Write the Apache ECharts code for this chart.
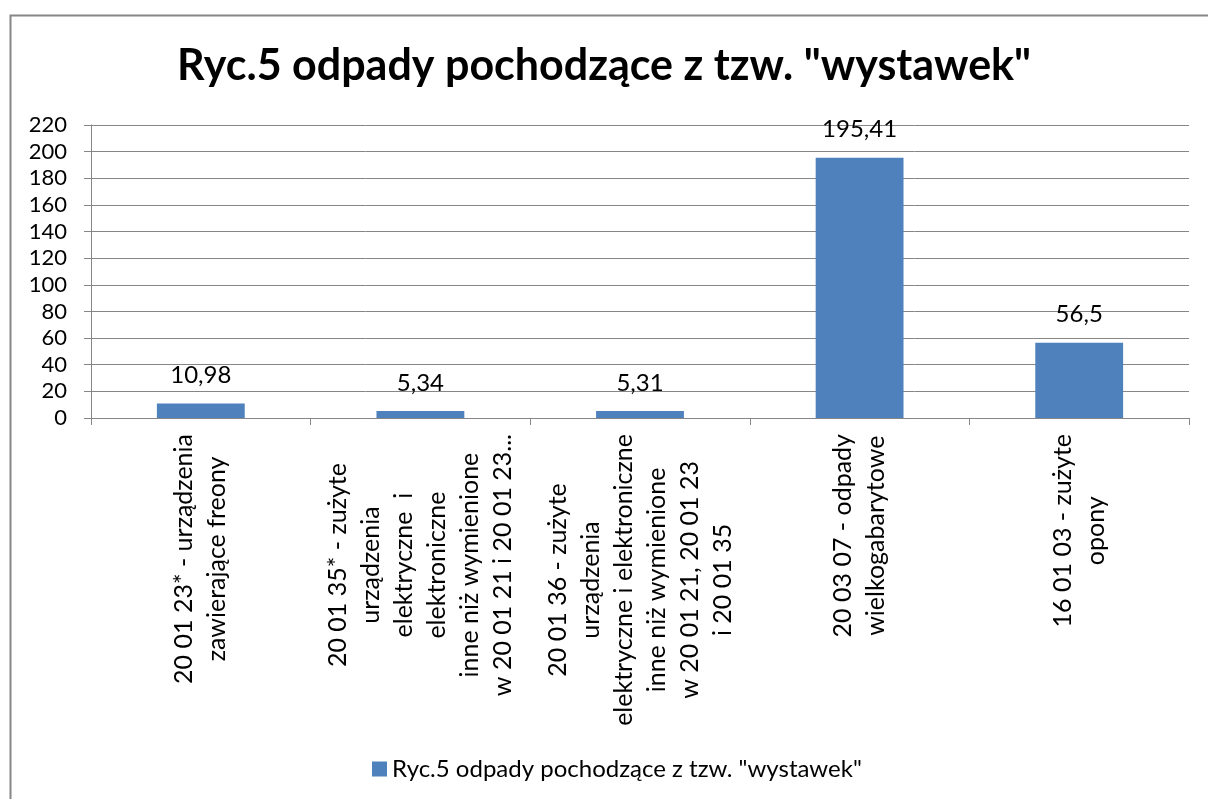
<!DOCTYPE html>
<html>
<head>
    <meta charset="utf-8" />
    <script type="text/javascript" src="https://cdn.jsdelivr.net/npm/echarts@6.0.0/dist/echarts.min.js"></script>
    <style>
      body { margin: 0; background: #fff; }
      #container { width: 1208px; height: 799px; }
    </style>
</head>
<body>
<div id="container"></div>
<script>
// dane z wykresu
var chartTitle = 'Ryc.5 odpady pochodzące z tzw. "wystawek"';
var categories = [
  '20 01 23* - urządzenia\nzawierające freony',
  '20 01 35* - zużyte\nurządzenia\nelektryczne  i\nelektroniczne\ninne niż wymienione\nw 20 01 21 i 20 01 23...',
  '20 01 36 - zużyte\nurządzenia\nelektryczne i elektroniczne\ninne niż wymienione\nw 20 01 21, 20 01 23\ni 20 01 35',
  '20 03 07 - odpady\nwielkogabarytowe',
  '16 01 03 - zużyte\nopony'
];
var values = [10.98, 5.34, 5.31, 195.41, 56.5];
var yTicks = { min: 0, max: 220, step: 20 };

var font = 'Lato, "Open Sans", sans-serif';
var grey = '#868686';

var dom = document.getElementById('container');
var myChart = echarts.init(dom, null, { renderer: 'canvas' });

var option = {
  animation: false,
  backgroundColor: '#fff',
  title: {
    text: chartTitle,
    left: 'center',
    top: 40,
    textStyle: { fontFamily: font, fontWeight: 'bold', fontSize: 43, color: '#000' }
  },
  graphic: [{
    type: 'rect',
    left: 8, top: 13,
    shape: { width: 1300, height: 900 },
    style: { fill: 'none', stroke: grey, lineWidth: 2 },
    silent: true
  }],
  legend: {
    left: 367,
    top: 752,
    icon: 'rect',
    itemWidth: 15,
    itemHeight: 15,
    itemGap: 8,
    textStyle: { fontFamily: font, fontSize: 24, color: '#000' },
    data: [chartTitle]
  },
  grid: { left: 91, right: 19, top: 125, bottom: 381 },
  xAxis: {
    type: 'category',
    data: categories,
    axisLine: { lineStyle: { color: grey, width: 1 } },
    axisTick: { show: true, length: 7, lineStyle: { color: grey } },
    axisLabel: {
      interval: 0,
      rotate: 90,
      margin: 16,
      color: '#000',
      fontFamily: font,
      fontSize: 25,
      lineHeight: 33,
      formatter: function (v) {
        return v.split('\n').map(function (l) { return '{c|' + l + '}'; }).join('\n');
      },
      rich: {
        c: { align: 'center', fontFamily: font, fontSize: 25, lineHeight: 33, color: '#000' }
      }
    }
  },
  yAxis: {
    type: 'value',
    min: yTicks.min,
    max: yTicks.max,
    interval: yTicks.step,
    axisLine: { show: true, lineStyle: { color: grey, width: 1 } },
    axisTick: { show: true, length: 7, lineStyle: { color: grey } },
    splitLine: { lineStyle: { color: grey, width: 1 } },
    axisLabel: { margin: 24, color: '#000', fontFamily: font, fontSize: 22 }
  },
  series: [{
    name: chartTitle,
    type: 'bar',
    data: values,
    barWidth: '40%',
    itemStyle: { color: '#4F81BD' },
    label: {
      show: true,
      position: 'top',
      distance: 16,
      color: '#000',
      fontFamily: font,
      fontSize: 24,
      formatter: function (p) { return String(p.value).replace('.', ','); }
    }
  }]
};

myChart.setOption(option);
</script>
</body>
</html>
